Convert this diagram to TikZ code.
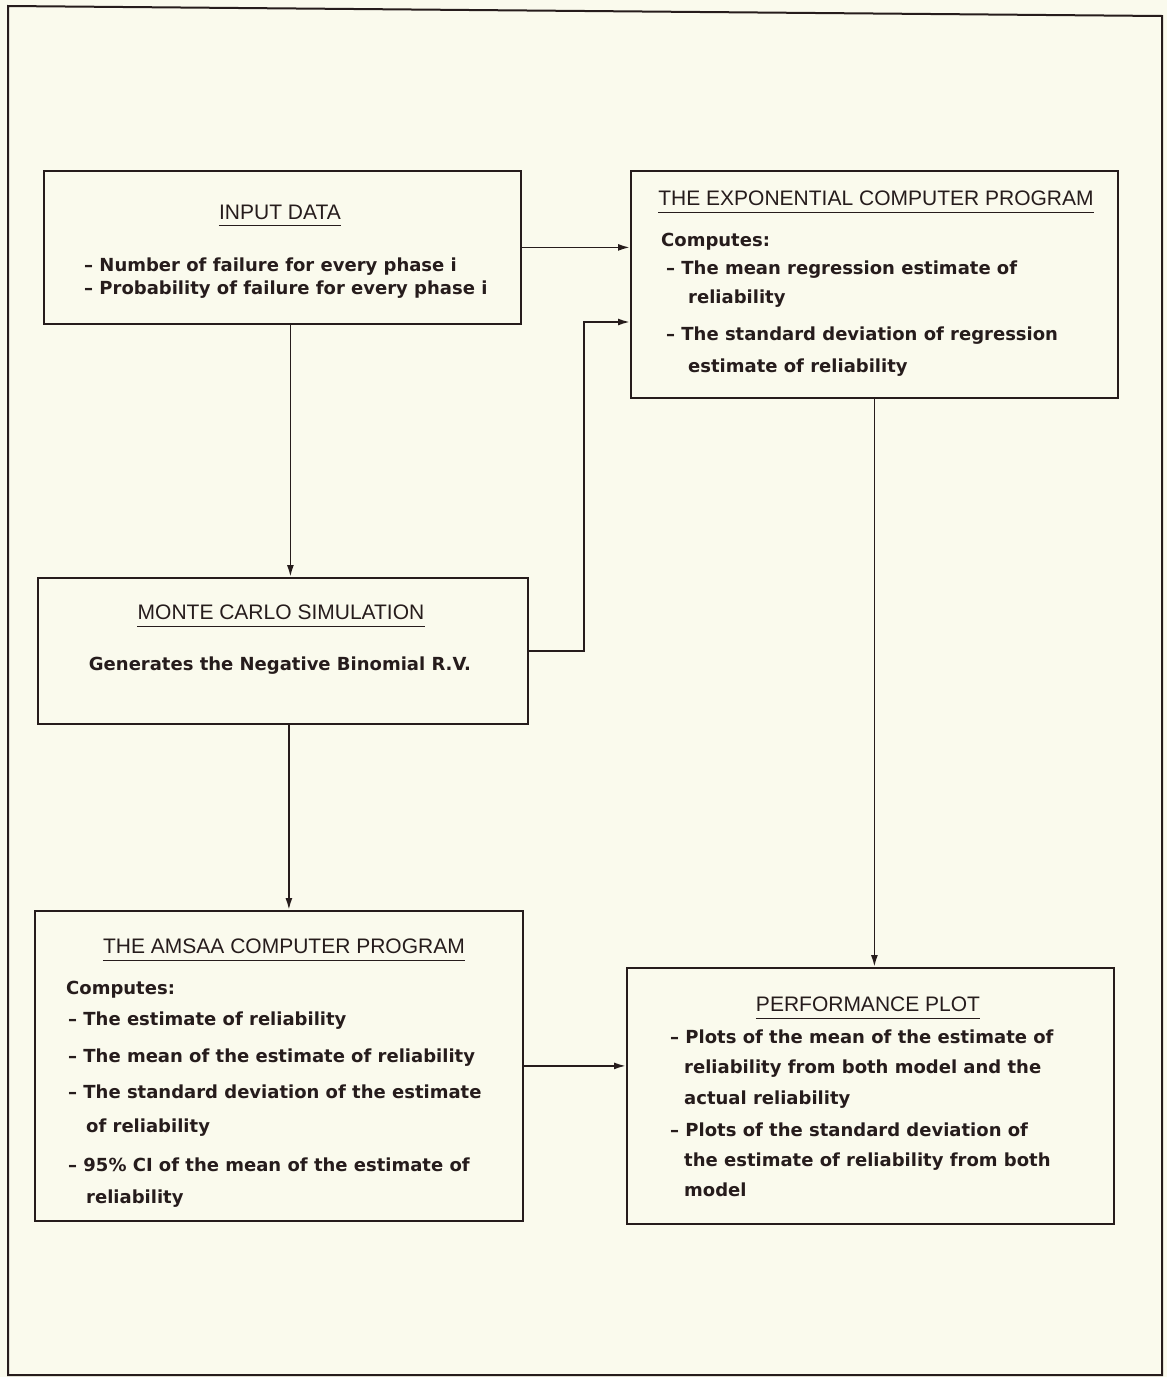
\documentclass[tikz,border=0pt]{standalone}
\usepackage{fontspec}
\setmainfont{DejaVu Sans}
\newfontfamily\titlefont{Liberation Sans}
\usetikzlibrary{arrows.meta}
\definecolor{paper}{RGB}{250,250,237}
\definecolor{ink}{RGB}{38,28,28}
\begin{document}
\begin{tikzpicture}[x=1pt,y=-1pt,
  box/.style={draw=ink, line width=1.8pt, inner sep=0pt, anchor=north west},
  ttl/.style={font=\titlefont\fontsize{21}{24}\selectfont, inner sep=0pt, text=ink},
  body/.style={font=\bfseries\fontsize{18}{22}\selectfont, inner sep=0pt, anchor=base west, text=ink},
  bodyc/.style={body, anchor=base},
  uline/.style={draw=ink, line width=1.5pt},
  arr/.style={draw=ink, line width=1.8pt, -{Latex[length=12pt,width=7pt]}},
  frm/.style={draw=ink, line width=2pt}]
\useasboundingbox (0,0) rectangle (1167,1377);
\fill[paper] (0,0) rectangle (1167,1377);
\draw[frm] (8,6) -- (1162,16) -- (1162,1375) -- (8,1375) -- cycle;

% boxes
\node[box, minimum width=477pt, minimum height=153pt] (inp) at (43,170) {};
\node[box, minimum width=487pt, minimum height=227pt] (exp) at (630,170) {};
\node[box, minimum width=490pt, minimum height=146pt] (mc) at (37,577) {};
\node[box, minimum width=488pt, minimum height=310pt] (ams) at (34,910) {};
\node[box, minimum width=487pt, minimum height=256pt] (perf) at (626,967) {};

% INPUT DATA
\node[ttl] (inpT) at (280,212) {INPUT DATA};
\draw[uline] ([yshift=-6pt]inpT.south west) -- ([yshift=-6pt]inpT.south east);
\node[body] (inp1) at (84,271) {\textendash\ Number of failure for every phase i};
\node[body] (inp2) at (84,294) {\textendash\ Probability of failure for every phase i};

% EXPONENTIAL
\node[ttl] (expT) at (876,198) {THE EXPONENTIAL COMPUTER PROGRAM};
\draw[uline] ([yshift=-7pt]expT.south west) -- ([yshift=-7pt]expT.south east);
\node[body] (exp0) at (661,246) {Computes:};
\node[body] (exp1) at (666,274) {\textendash\ The mean regression estimate of};
\node[body] (exp2) at (688,303) {reliability};
\node[body] (exp3) at (666,340) {\textendash\ The standard deviation of regression};
\node[body] (exp4) at (688,372) {estimate of reliability};

% MONTE CARLO
\node[ttl] (mcT) at (281,612) {MONTE CARLO SIMULATION};
\draw[uline] ([yshift=-7pt]mcT.south west) -- ([yshift=-7pt]mcT.south east);
\node[bodyc] (mc1) at (280,670) {Generates the Negative Binomial R.V.};

% AMSAA
\node[ttl] (amsT) at (284,946) {THE AMSAA COMPUTER PROGRAM};
\draw[uline] ([yshift=-7pt]amsT.south west) -- ([yshift=-7pt]amsT.south east);
\node[body] (ams0) at (66,994) {Computes:};
\node[body] (ams1) at (68,1025) {\textendash\ The estimate of reliability};
\node[body] (ams2) at (68,1062) {\textendash\ The mean of the estimate of reliability};
\node[body] (ams3) at (68,1098) {\textendash\ The standard deviation of the estimate};
\node[body] (ams4) at (86,1132) {of reliability};
\node[body] (ams5) at (68,1171) {\textendash\ 95\% CI of the mean of the estimate of};
\node[body] (ams6) at (86,1203) {reliability};

% PERFORMANCE
\node[ttl] (perfT) at (868,1004) {PERFORMANCE PLOT};
\draw[uline] ([yshift=-7pt]perfT.south west) -- ([yshift=-7pt]perfT.south east);
\node[body] (perf1) at (670,1043) {\textendash\ Plots of the mean of the estimate of};
\node[body] (perf2) at (684,1073) {reliability from both model and the};
\node[body] (perf3) at (684,1104) {actual reliability};
\node[body] (perf4) at (670,1136) {\textendash\ Plots of the standard deviation of};
\node[body] (perf5) at (684,1166) {the estimate of reliability from both};
\node[body] (perf6) at (684,1196) {model};

% connectors
\draw[arr] (inp.east) -- (inp.east -| exp.west);
\coordinate (j) at (584,322);
\draw[arr] (mc.east) -- (mc.east -| j) -- (j) -- (j -| exp.west);
\draw[arr] ([xshift=8pt]inp.south) -- ([xshift=8pt]inp.south |- mc.north);
\draw[arr] ([xshift=6pt]mc.south) -- ([xshift=6pt]mc.south |- ams.north);
\draw[arr] (exp.south) -- (exp.south |- perf.north);
\draw[arr] (ams.east) -- (ams.east -| perf.west);
\end{tikzpicture}
\end{document}
